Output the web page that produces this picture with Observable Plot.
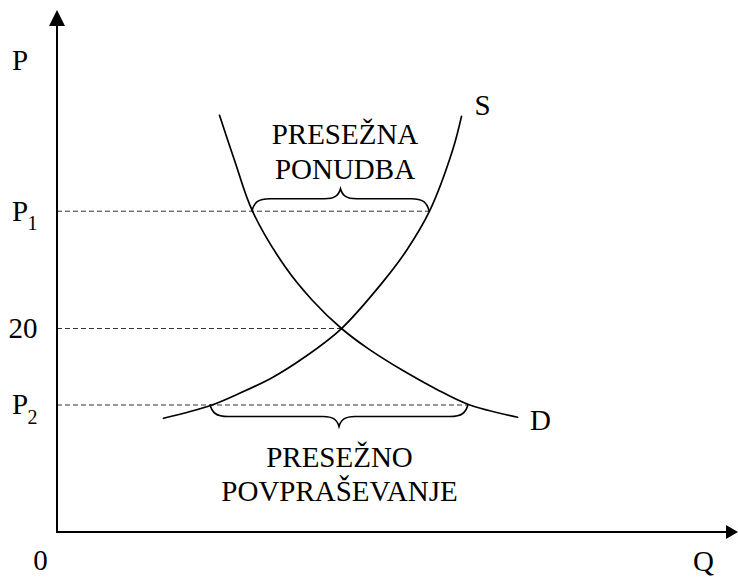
<!DOCTYPE html>
<html>
<head>
<meta charset="utf-8">
<script src="https://cdn.jsdelivr.net/npm/d3@7"></script>
<script src="https://cdn.jsdelivr.net/npm/@observablehq/plot@0.6"></script>
<style>
  html, body { margin: 0; padding: 0; background: #ffffff; }
</style>
</head>
<body>
<div id="chart"></div>
<script>
// ---- Data (Q = quantity, P = price) ----
const demandQ = [16.2, 17.7, 19.5, 22.8, 25.5, 28.4, 31.1, 34.5, 37.8, 41.1, 46.0];
const demandP = [40.9, 36.5, 31.5, 26.0, 22.75, 20.0, 18.0, 15.9, 14.1, 12.55, 11.3];
const supplyQ = [10.6, 15.3, 18.1, 21.5, 24.8, 28.4, 32.4, 34.9, 37.2, 39.5, 40.4];
const supplyP = [11.2, 12.45, 13.6, 15.2, 17.25, 20.0, 24.4, 27.65, 31.5, 37.45, 40.8];

const priceLabels = ["P", "20", "P"];
const priceSubs   = ["1", "", "2"];
const priceValues = [31.5, 20, 12.5];
const guideEndQ   = [37.2, 28.4, 41.1];

const braceLines = [["PRESEŽNA", "PONUDBA"], ["PRESEŽNO", "POVPRAŠEVANJE"]];
const braceFromQ = [19.5, 15.3];
const braceToQ   = [37.2, 41.1];
const braceP     = [31.5, 12.5];
const braceDir   = [-1, 1];

const curveNames = ["D", "S"];
const axisNames = { price: "P", quantity: "Q", origin: "0" };

// ---- Tables built from the arrays ----
const demand = demandQ.map((q, i) => ({ q, p: demandP[i] }));
const supply = supplyQ.map((q, i) => ({ q, p: supplyP[i] }));
const prices = priceLabels.map((label, i) => ({ label, sub: priceSubs[i], p: priceValues[i], qEnd: guideEndQ[i] }));
const braces = braceLines.map((lines, i) => ({
  text: lines.join("\n"), q0: braceFromQ[i], q1: braceToQ[i], p: braceP[i], dir: braceDir[i]
}));

const font = "'Liberation Serif', 'Times New Roman', serif";

function axesMark(index, scales, values, dimensions) {
  const x = scales.x, y = scales.y;
  const x0 = x(0), y0 = y(0);
  const top = dimensions.marginTop;
  const right = dimensions.width - dimensions.marginRight;
  const g = d3.create("svg:g");
  g.append("line").attr("x1", x0).attr("x2", x0).attr("y1", y0 + 1).attr("y2", top + 12)
    .attr("stroke", "black").attr("stroke-width", 2);
  g.append("line").attr("x1", x0 - 1).attr("x2", right - 8).attr("y1", y0).attr("y2", y0)
    .attr("stroke", "black").attr("stroke-width", 2);
  g.append("path").attr("d", `M${x0},${top} L${x0 - 8},${top + 16} L${x0 + 8},${top + 16} Z`).attr("fill", "black");
  g.append("path").attr("d", `M${right},${y0} L${right - 12},${y0 - 7} L${right - 12},${y0 + 7} Z`).attr("fill", "black");
  return g.node();
}

function braceMark(index, scales) {
  const g = d3.create("svg:g").attr("fill", "none").attr("stroke", "black").attr("stroke-width", 1.6);
  braces.forEach(b => {
    const x0 = scales.x(b.q0), x1 = scales.x(b.q1), y0 = scales.y(b.p), s = b.dir;
    const m = (x0 + x1) / 2;
    const f = y0 + s * 12;
    const d = `M${x0},${y0} C${x0 + 2},${y0 + s * 8} ${x0 + 6},${f} ${x0 + 18},${f} ` +
      `L${m - 16},${f} C${m - 6},${f} ${m - 2},${y0 + s * 15} ${m},${y0 + s * 22} ` +
      `C${m + 2},${y0 + s * 15} ${m + 6},${f} ${m + 16},${f} ` +
      `L${x1 - 18},${f} C${x1 - 6},${f} ${x1 - 2},${y0 + s * 8} ${x1},${y0}`;
    g.append("path").attr("d", d);
  });
  return g.node();
}

const plot = Plot.plot({
  width: 738,
  height: 577,
  marginLeft: 57,
  marginRight: 0,
  marginTop: 10,
  marginBottom: 45,
  style: { fontFamily: font, background: "#ffffff", color: "black", overflow: "visible" },
  x: { domain: [0, 68.1], axis: null },
  y: { domain: [0, 51.18], axis: null },
  marks: [
    // dashed guides
    Plot.ruleY(prices, { y: "p", x1: 0, x2: "qEnd", stroke: "#333", strokeWidth: 1, strokeDasharray: "5,3" }),
    // curves
    Plot.line(demand, { x: "q", y: "p", curve: "catmull-rom", stroke: "black", strokeWidth: 1.7 }),
    Plot.line(supply, { x: "q", y: "p", curve: "catmull-rom", stroke: "black", strokeWidth: 1.7 }),
    axesMark,
    braceMark,
    // price tick labels
    Plot.text(prices.filter(d => d.sub), { y: "p", text: "label", frameAnchor: "left", textAnchor: "middle", lineAnchor: "middle", dx: -37.5, fontSize: 29, fill: "black" }),
    Plot.text(prices.filter(d => d.sub), { y: "p", text: "sub", frameAnchor: "left", textAnchor: "middle", lineAnchor: "middle", dx: -25, dy: 12.6, fontSize: 20, fill: "black" }),
    Plot.text(prices.filter(d => !d.sub), { y: "p", text: "label", frameAnchor: "left", textAnchor: "middle", lineAnchor: "middle", dx: -34.5, fontSize: 29, fill: "black" }),
    // axis names
    Plot.text([axisNames.price], { frameAnchor: "top-left", textAnchor: "middle", lineAnchor: "middle", dx: -37.5, dy: 50, fontSize: 29, fill: "black" }),
    Plot.text([axisNames.quantity], { frameAnchor: "bottom-right", textAnchor: "middle", lineAnchor: "middle", dx: -35, dy: 29, fontSize: 29, fill: "black" }),
    Plot.text([axisNames.origin], { frameAnchor: "bottom-left", textAnchor: "middle", lineAnchor: "middle", dx: -17, dy: 28, fontSize: 29, fill: "black" }),
    // curve names at the curve ends
    Plot.text([demand[demand.length - 1]], { x: "q", y: "p", text: () => curveNames[0], textAnchor: "start", lineAnchor: "middle", dx: 12.5, dy: 3, fontSize: 29, fill: "black" }),
    Plot.text([supply[supply.length - 1]], { x: "q", y: "p", text: () => curveNames[1], textAnchor: "start", lineAnchor: "middle", dx: 13, dy: -10.5, fontSize: 29, fill: "black" }),
    // brace annotations
    Plot.text([braces[0]], { x: d => (d.q0 + d.q1) / 2, y: "p", text: "text", textAnchor: "middle", lineAnchor: "middle", lineHeight: 1.22, dx: 4, dy: -61, fontSize: 29, fill: "black" }),
    Plot.text([braces[1]], { x: d => (d.q0 + d.q1) / 2, y: "p", text: "text", textAnchor: "middle", lineAnchor: "middle", lineHeight: 1.17, dx: 0, dy: 68, fontSize: 29, fill: "black" })
  ]
});

document.getElementById("chart").appendChild(plot);
</script>
</body>
</html>
